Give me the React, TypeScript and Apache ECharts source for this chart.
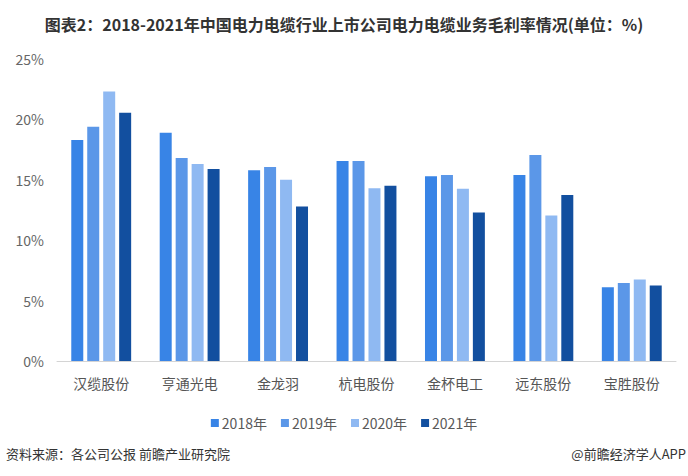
import React, { useEffect, useRef } from "react";
import * as echarts from "echarts";

const categories = ["汉缆股份", "亨通光电", "金龙羽", "杭电股份", "金杯电工", "远东股份", "宝胜股份"];
const years = ["2018年", "2019年", "2020年", "2021年"];
const v2018 = [18.3, 18.9, 15.8, 16.55, 15.3, 15.4, 6.1];
const v2019 = [19.4, 16.8, 16.05, 16.55, 15.4, 17.05, 6.45];
const v2020 = [22.3, 16.3, 15.0, 14.3, 14.25, 12.05, 6.75];
const v2021 = [20.55, 15.9, 12.8, 14.5, 12.3, 13.75, 6.25];
const yTicks = { min: 0, max: 25, interval: 5 };

const colors = ["#3884E6", "#5B97E8", "#8FB9F2", "#124F9F"];
const FONT = "'Noto Sans CJK SC', 'Noto Sans', sans-serif";

export default function App() {
  const ref = useRef<HTMLDivElement>(null);
  useEffect(() => {
    const chart = echarts.init(ref.current!, null, { renderer: "svg" });
    const values = [v2018, v2019, v2020, v2021];
    chart.setOption({
      animation: false,
      backgroundColor: "#ffffff",
      textStyle: { fontFamily: FONT },
      title: {
        text: "图表2：2018-2021年中国电力电缆行业上市公司电力电缆业务毛利率情况(单位：%)",
        left: "center",
        top: 11,
        textStyle: { fontSize: 16, fontWeight: "bold", color: "#333333", fontFamily: FONT },
      },
      legend: {
        data: years,
        left: "center",
        top: 411,
        itemWidth: 8,
        itemHeight: 8,
        itemGap: 14,
        icon: "rect",
        textStyle: { fontSize: 14, color: "#595959", fontFamily: FONT, padding: [0, 0, 0, -2] },
      },
      grid: { left: 57, right: 12, top: 59, bottom: 115, containLabel: false },
      xAxis: {
        type: "category",
        data: categories,
        axisLine: { lineStyle: { color: "#d4d4d4", width: 1 } },
        axisTick: { show: false },
        axisLabel: { fontSize: 14, color: "#555555", margin: 15, fontFamily: FONT },
      },
      yAxis: {
        type: "value",
        min: yTicks.min,
        max: yTicks.max,
        interval: yTicks.interval,
        axisLine: { show: false },
        axisTick: { show: false },
        splitLine: { show: false },
        axisLabel: { formatter: "{value}%", fontSize: 14, color: "#666666", margin: 13, fontFamily: FONT },
      },
      series: years.map((y, i) => ({
        name: y,
        type: "bar",
        data: values[i],
        barWidth: 12,
        barGap: "33%",
        itemStyle: { color: colors[i] },
      })),
      graphic: [
        {
          type: "text",
          left: 6,
          top: 447,
          style: { text: "资料来源：各公司公报 前瞻产业研究院", fontSize: 13, fill: "#333333", fontFamily: FONT },
        },
        {
          type: "text",
          right: 2,
          top: 447,
          style: { text: "@前瞻经济学人APP", fontSize: 13, fill: "#333333", fontFamily: FONT },
        },
      ],
    });
    return () => chart.dispose();
  }, []);
  return (
    <div
      ref={ref}
      style={{ position: "fixed", left: 0, top: 0, width: 688, height: 476 }}
    />
  );
}
